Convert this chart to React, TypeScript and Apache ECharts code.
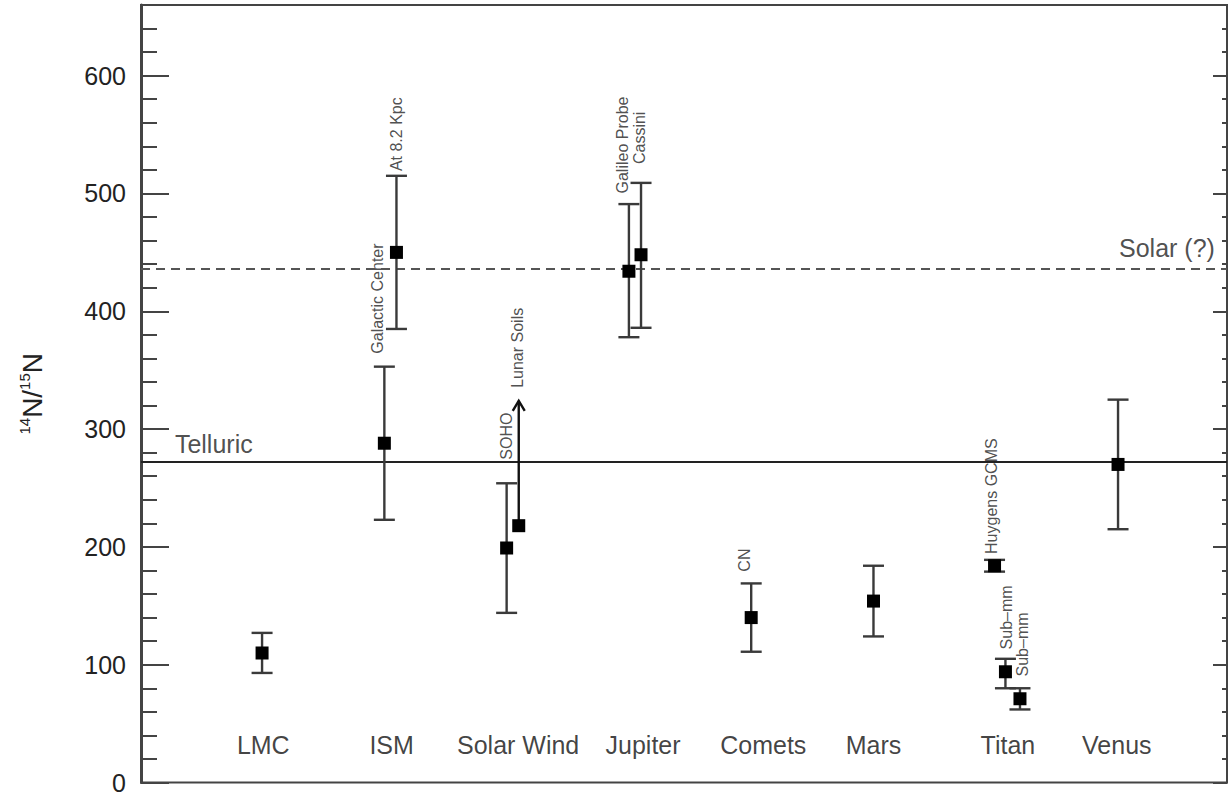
import React, { useEffect, useRef } from "react";
import * as echarts from "echarts";

// ---- data ----
const categories = ["LMC", "ISM", "Solar Wind", "Jupiter", "Comets", "Mars", "Titan", "Venus"];
const categoryX = [1.01, 2.07, 3.115, 4.147, 5.14, 6.05, 7.16, 8.06];
const categoryLabelY = 32;

const pointNames = ["LMC", "Galactic Center", "At 8.2 Kpc", "SOHO", "Galileo Probe", "Cassini", "CN", "Mars", "Huygens GCMS", "Sub–mm", "Sub–mm", "Venus"];
const pointX = [1.0, 2.01, 2.11, 3.02, 4.03, 4.13, 5.04, 6.05, 7.05, 7.14, 7.26, 8.07];
const pointValue = [110, 288, 450, 199, 434, 448, 140, 154, 184, 94, 71, 270];
const errLow = [93, 223, 385, 144, 378, 386, 111, 124, 179, 80, 62, 215];
const errHigh = [127, 353, 515, 254, 491, 509, 169, 184, 189, 105, 80, 325];

// lower limit (arrow)
const limitName = "Lunar Soils";
const limitX = 3.12;
const limitValue = 218;
const limitArrowTo = 324;

// rotated annotations: text, x, bottom value
const annoText = ["Galactic Center", "At 8.2 Kpc", "SOHO", "Lunar Soils", "Galileo Probe", "Cassini", "CN", "Huygens GCMS", "Sub–mm", "Sub–mm"];
const annoX = [1.957, 2.114, 3.022, 3.113, 3.98, 4.12, 4.988, 7.027, 7.151, 7.283];
const annoY = [364, 519, 274, 335, 500, 525, 179, 194, 113, 90];

// reference lines
const telluricValue = 272;
const solarValue = 436;
const refLabels = ["Telluric", "Solar (?)"];
const refLabelX = [0.28, 8.87];
const refLabelY = [277, 443];

const yTicks = [0, 100, 200, 300, 400, 500, 600];
const Y_MAX = 660;
const X_MAX = 8.97;

const FONT = "Liberation Sans, Arial, Helvetica, sans-serif";

export default function App() {
  const ref = useRef<HTMLDivElement>(null);
  useEffect(() => {
    if (!ref.current) return;
    const chart = echarts.init(ref.current, undefined, { renderer: "svg" });
    const axisColor = "#444";
    const baseY = {
      type: "value" as const,
      min: 0,
      max: Y_MAX,
      splitLine: { show: false },
    };
    const option: any = {
      animation: false,
      backgroundColor: "#fff",
      grid: {
        left: 141, right: 2, top: 5, bottom: 11,
        show: true, borderColor: axisColor, borderWidth: 2, backgroundColor: "transparent",
      },
      xAxis: {
        type: "value", min: 0, max: X_MAX, show: false,
      },
      yAxis: [
        {
          ...baseY,
          interval: 100,
          position: "left",
          axisLine: { show: true, lineStyle: { color: axisColor, width: 3 } },
          axisTick: { show: true, inside: true, length: 28, lineStyle: { color: axisColor, width: 2 } },
          axisLabel: {
            show: true, margin: 15, fontSize: 25, color: "#222", fontFamily: FONT,
            formatter: (v: number) => (yTicks.indexOf(v) >= 0 ? String(v) : ""),
          },
          name: "{s|14}{n|N/}{s|15}{n|N}",
          nameLocation: "middle",
          nameRotate: 90,
          nameGap: 94,
          nameTextStyle: {
            color: "#222",
            fontFamily: FONT,
            rich: {
              s: { fontSize: 15, fontFamily: FONT, color: "#222", verticalAlign: "top", lineHeight: 30 },
              n: { fontSize: 28, fontFamily: FONT, color: "#222", lineHeight: 30 },
            },
          },
        },
        {
          ...baseY,
          interval: 20,
          position: "left",
          axisLine: { show: false },
          axisTick: { show: true, inside: true, length: 16, lineStyle: { color: axisColor, width: 2 } },
          axisLabel: { show: false },
        },
        {
          ...baseY,
          interval: 100,
          position: "right",
          axisLine: { show: true, lineStyle: { color: axisColor, width: 2 } },
          axisTick: { show: true, inside: true, length: 14, lineStyle: { color: axisColor, width: 2 } },
          axisLabel: { show: false },
        },
        {
          ...baseY,
          interval: 20,
          position: "right",
          axisLine: { show: false },
          axisTick: { show: true, inside: true, length: 5, lineStyle: { color: axisColor, width: 2 } },
          axisLabel: { show: false },
        },
      ],
      series: [
        {
          type: "line",
          data: [],
          silent: true,
          markLine: {
            silent: true,
            symbol: ["none", "none"],
            label: { show: false },
            data: [
              { yAxis: telluricValue, lineStyle: { color: "#222", width: 2, type: "solid" } },
              { yAxis: solarValue, lineStyle: { color: "#555", width: 2, type: [9, 6] } },
            ],
          },
        },
        {
          type: "custom",
          name: "measurements",
          data: pointX.map((x, i) => [x, pointValue[i], errLow[i], errHigh[i], pointNames[i]]),
          encode: { x: 0, y: 1 },
          z: 5,
          renderItem: (params: any, api: any) => {
            const x = api.value(0);
            const c = api.coord([x, api.value(1)]);
            const lo = api.coord([x, api.value(2)]);
            const hi = api.coord([x, api.value(3)]);
            const cap = 10.5;
            const sq = 6.5;
            const st = { stroke: "#3a3a3a", lineWidth: 2.4 };
            return {
              type: "group",
              children: [
                { type: "line", shape: { x1: lo[0], y1: lo[1], x2: hi[0], y2: hi[1] }, style: st },
                { type: "line", shape: { x1: lo[0] - cap, y1: lo[1], x2: lo[0] + cap, y2: lo[1] }, style: st },
                { type: "line", shape: { x1: hi[0] - cap, y1: hi[1], x2: hi[0] + cap, y2: hi[1] }, style: st },
                { type: "rect", shape: { x: c[0] - sq, y: c[1] - sq, width: sq * 2, height: sq * 2 }, style: { fill: "#000" } },
              ],
            };
          },
        },
        {
          type: "custom",
          name: limitName,
          data: [[limitX, limitValue, limitArrowTo]],
          encode: { x: 0, y: 1 },
          z: 5,
          renderItem: (params: any, api: any) => {
            const x = api.value(0);
            const c = api.coord([x, api.value(1)]);
            const tip = api.coord([x, api.value(2)]);
            const sq = 6.5;
            const st = { stroke: "#111", lineWidth: 2.4, fill: "none" };
            return {
              type: "group",
              children: [
                { type: "line", shape: { x1: c[0], y1: c[1], x2: tip[0], y2: tip[1] }, style: st },
                { type: "polyline", shape: { points: [[tip[0] - 6, tip[1] + 10], [tip[0], tip[1]], [tip[0] + 6, tip[1] + 10]] }, style: st },
                { type: "rect", shape: { x: c[0] - sq, y: c[1] - sq, width: sq * 2, height: sq * 2 }, style: { fill: "#000" } },
              ],
            };
          },
        },
        {
          type: "scatter",
          name: "categories",
          silent: true,
          symbolSize: 1,
          itemStyle: { color: "rgba(0,0,0,0)" },
          data: categories.map((c, i) => ({ value: [categoryX[i], categoryLabelY], name: c })),
          label: {
            show: true, position: "inside", formatter: "{b}",
            fontSize: 25, fontFamily: FONT, color: "#111", align: "center", verticalAlign: "middle",
          },
        },
        {
          type: "scatter",
          name: "annotations",
          silent: true,
          symbolSize: 1,
          itemStyle: { color: "rgba(0,0,0,0)" },
          data: annoText.map((t, i) => ({ value: [annoX[i], annoY[i]], name: t })),
          label: {
            show: true, position: "inside", formatter: "{b}", rotate: 90,
            fontSize: 16, fontFamily: FONT, color: "#222", align: "left", verticalAlign: "middle",
          },
        },
        {
          type: "scatter",
          name: "refLabels",
          silent: true,
          symbolSize: 1,
          itemStyle: { color: "rgba(0,0,0,0)" },
          data: refLabels.map((t, i) => ({
            value: [refLabelX[i], refLabelY[i]],
            name: t,
            label: { align: i === 0 ? "left" : "right" },
          })),
          label: {
            show: true, position: "inside", formatter: "{b}",
            fontSize: 25, fontFamily: FONT, color: "#222", verticalAlign: "bottom",
          },
        },
      ],
    };
    chart.setOption(option);
    return () => chart.dispose();
  }, []);
  return (
    <div
      ref={ref}
      style={{ position: "fixed", left: 0, top: 0, width: 1229, height: 795, background: "#fff" }}
    />
  );
}
